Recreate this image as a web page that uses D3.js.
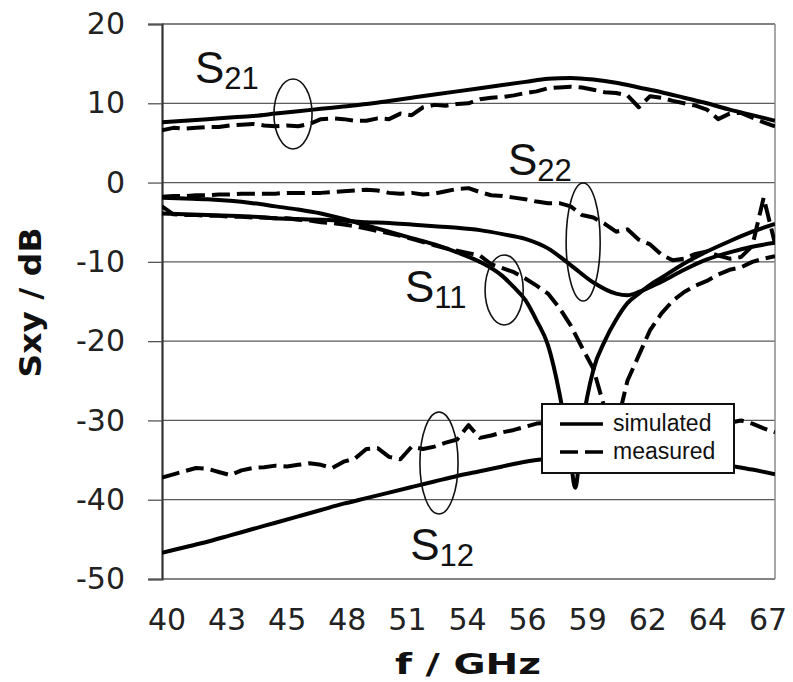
<!DOCTYPE html>
<html>
<head>
<meta charset="utf-8">
<script src="https://cdn.jsdelivr.net/npm/d3@7/dist/d3.min.js"></script>
<style>
  html, body { margin: 0; padding: 0; background: #fff; }
  svg { display: block; }
</style>
</head>
<body>
<div id="chart"></div>
<script>
// ---------------- DATA ----------------
const xTickLabels = ["40","43","45","48","51","54","56","59","62","64","67"];
const yTicks = [20, 10, 0, -10, -20, -30, -40, -50];

// simulated series (frequency in GHz, value in dB)
const fSim = [40,41,42,43,44,45,46,47,48,49,50,51,52,53,54,55,56,57,58,59,60,61,62,63,64,65,66,67];
const s21Sim = [7.6,7.8,8.0,8.2,8.4,8.7,9.0,9.3,9.6,9.9,10.3,10.7,11.1,11.5,11.9,12.3,12.7,13.1,13.2,13.0,12.6,12.0,11.4,10.7,10.0,9.2,8.5,7.8];
const s12Sim = [-46.7,-46.0,-45.3,-44.5,-43.7,-42.9,-42.1,-41.3,-40.5,-39.8,-39.1,-38.4,-37.7,-37.0,-36.4,-35.8,-35.2,-34.8,-34.5,-34.3,-34.2,-34.3,-34.5,-34.8,-35.2,-35.7,-36.2,-36.8];

const fS11Sim = [40,41,42,43,44,45,46,47,48,49,50,51,52,53,54,55,55.5,56,56.5,57,57.5,58,58.2,58.5,59,59.5,60,60.5,61,61.5,62,63,64,65,66,67];
const s11Sim = [-1.9,-2.0,-2.1,-2.3,-2.6,-3.0,-3.4,-3.9,-4.6,-5.4,-6.2,-7.0,-7.8,-8.8,-10.0,-11.8,-13.2,-14.8,-17.4,-20.5,-26.5,-35.0,-38.5,-31.0,-23.6,-20.0,-17.3,-15.2,-14.0,-12.9,-12.0,-10.2,-8.7,-7.4,-6.2,-5.2];

const fS22Sim = [40,41,42,43,44,45,46,47,48,49,50,51,52,53,54,55,56,57,58,59,60,60.5,61,62,63,64,65,66,67];
const s22Sim = [-3.9,-4.0,-4.1,-4.2,-4.3,-4.5,-4.6,-4.7,-4.8,-5.0,-5.1,-5.3,-5.5,-5.7,-6.0,-6.5,-7.1,-8.3,-10.4,-12.6,-14.0,-14.2,-13.8,-12.5,-11.0,-9.7,-8.8,-8.1,-7.6];

// measured series (0.5 GHz steps)
const fMeas = [40,40.5,41,41.5,42,42.5,43,43.5,44,44.5,45,45.5,46,46.5,47,47.5,48,48.5,49,49.5,50,50.5,51,51.5,52,52.5,53,53.5,54,54.5,55,55.5,56,56.5,57,57.5,58,58.5,59,59.5,60,60.5,61,61.5,62,62.5,63,63.5,64,64.5,65,65.5,66,66.5,67];
const s21Meas = [6.6,6.9,6.8,6.9,7.0,7.0,7.2,7.3,7.4,7.2,7.1,7.2,7.1,7.4,8.0,8.1,8.0,7.8,7.8,8.1,8.0,8.7,8.5,9.5,9.8,9.7,9.9,10.0,10.5,10.7,10.8,11.0,11.3,11.5,11.9,12.0,12.1,12.0,11.7,11.4,11.3,11.0,9.5,10.9,10.7,10.3,10.0,9.7,9.2,8.0,8.7,8.8,8.2,7.6,7.1];
const s22Meas = [-1.8,-1.7,-1.7,-1.6,-1.6,-1.5,-1.5,-1.4,-1.4,-1.4,-1.4,-1.3,-1.3,-1.3,-1.3,-1.2,-1.1,-1.0,-0.9,-1.0,-1.3,-1.4,-1.3,-1.5,-1.4,-1.1,-0.8,-0.7,-1.2,-1.6,-1.7,-1.9,-2.1,-2.4,-2.6,-2.6,-3.0,-4.1,-4.4,-5.2,-6.2,-5.9,-7.2,-7.8,-9.1,-9.8,-9.6,-9.0,-8.7,-9.2,-9.6,-9.4,-8.0,-1.9,-7.7];
const s11Meas = [-3.0,-4.0,-4.1,-4.1,-4.2,-4.2,-4.3,-4.3,-4.4,-4.4,-4.5,-4.5,-4.7,-4.8,-5.0,-5.1,-5.3,-5.5,-5.8,-6.1,-6.4,-6.7,-7.1,-7.5,-7.9,-8.3,-8.6,-8.9,-9.2,-10.3,-10.8,-11.3,-12.1,-13.0,-14.0,-15.8,-18.0,-20.8,-23.5,-28.5,-31.0,-25.0,-21.8,-18.6,-16.5,-14.9,-13.8,-13.0,-12.4,-11.6,-11.0,-10.7,-10.0,-9.6,-9.3];
const s12Meas = [-37.2,-36.8,-36.4,-36.0,-36.1,-36.5,-36.9,-36.3,-36.0,-35.9,-35.7,-35.8,-35.6,-35.4,-35.6,-36.0,-35.2,-34.8,-33.6,-33.5,-34.6,-34.9,-33.3,-33.6,-33.3,-32.8,-32.4,-30.6,-32.2,-31.9,-31.5,-31.2,-30.8,-30.4,-30.3,-30.1,-30.0,-29.8,-29.9,-29.7,-29.8,-29.9,-30.0,-29.8,-30.1,-30.0,-30.2,-30.1,-30.3,-30.2,-30.3,-30.0,-30.4,-31.0,-31.5];

// annotation labels: name, subscript, anchor (GHz, dB), ellipse centre & radii (GHz, dB)
const annoNames = ["S","S","S","S"];
const annoSubs = ["21","22","11","12"];
const annoTextF = [41.45, 55.24, 50.70, 50.93];
const annoTextV = [12.56, 0.96, -15.06, -47.6];
const ellF = [45.77, 58.55, 55.07, 52.20];
const ellV = [8.65, -7.49, -13.55, -35.37];
const ellRF = [0.84, 0.75, 0.84, 0.84];
const ellRV = [4.41, 7.44, 4.41, 6.43];

const legendLabels = ["simulated", "measured"];

// ---------------- CHART ----------------
const W = 793, H = 682;
const margin = {left: 162, top: 24, right: 18, bottom: 103};
const x = d3.scaleLinear().domain([40, 67]).range([margin.left, W - margin.right]);
const y = d3.scaleLinear().domain([-50, 20]).range([H - margin.bottom, margin.top]);
const xLab = d3.scalePoint().domain(xTickLabels).range([167, 768]);

const svg = d3.select("#chart").append("svg").attr("width", W).attr("height", H);

svg.append("defs").append("clipPath").attr("id", "plotclip")
  .append("rect").attr("x", x(40)).attr("y", y(20) - 2)
  .attr("width", x(67) - x(40)).attr("height", y(-50) - y(20) + 4);

// gridlines
svg.append("g").selectAll("line").data(yTicks).join("line")
  .attr("x1", x(40)).attr("x2", x(67))
  .attr("y1", d => y(d)).attr("y2", d => y(d))
  .attr("stroke", "#5a5a5a").attr("stroke-width", 1.3);
// right border
svg.append("line").attr("x1", x(67)).attr("x2", x(67)).attr("y1", y(20)).attr("y2", y(-50))
  .attr("stroke", "#8a8a8a").attr("stroke-width", 1.5);

// y axis
const yAxis = svg.append("g").attr("transform", `translate(${x(40)},0)`)
  .call(d3.axisLeft(y).tickValues(yTicks).tickSize(14).tickPadding(23).tickFormat(d => d));
yAxis.select(".domain").attr("stroke", "#333").attr("stroke-width", 2.2);
yAxis.selectAll(".tick line").attr("stroke", "#555").attr("stroke-width", 1.3);
yAxis.selectAll(".tick text").attr("font-family", "DejaVu Sans, Verdana, sans-serif")
  .attr("font-size", 30).attr("fill", "#222");

// x tick labels
svg.append("g").selectAll("text").data(xTickLabels).join("text")
  .attr("x", d => xLab(d)).attr("y", 630)
  .attr("text-anchor", "middle")
  .attr("font-family", "DejaVu Sans, Verdana, sans-serif").attr("font-size", 30).attr("fill", "#222")
  .text(d => d);

// axis titles
svg.append("text").attr("x", 468).attr("y", 674).attr("text-anchor", "middle")
  .attr("font-family", "DejaVu Sans, Verdana, sans-serif").attr("font-weight", "bold")
  .attr("font-size", 28).attr("fill", "#111")
  .attr("textLength", 146).attr("lengthAdjust", "spacingAndGlyphs")
  .text("f / GHz");
svg.append("text").attr("transform", "translate(41,302.5) rotate(-90)").attr("text-anchor", "middle")
  .attr("font-family", "DejaVu Sans, Verdana, sans-serif").attr("font-weight", "bold")
  .attr("font-size", 30).attr("fill", "#111")
  .attr("textLength", 150).attr("lengthAdjust", "spacingAndGlyphs")
  .text("Sxy / dB");

// data lines
const series = [
  {f: fSim, v: s21Sim, dashed: false},
  {f: fSim, v: s12Sim, dashed: false},
  {f: fS11Sim, v: s11Sim, dashed: false},
  {f: fS22Sim, v: s22Sim, dashed: false},
  {f: fMeas, v: s21Meas, dashed: true},
  {f: fMeas, v: s22Meas, dashed: true},
  {f: fMeas, v: s11Meas, dashed: true},
  {f: fMeas, v: s12Meas, dashed: true}
];
const lineSim = d3.line().x(d => x(d[0])).y(d => y(d[1])).curve(d3.curveMonotoneX);
const lineMeas = d3.line().x(d => x(d[0])).y(d => y(d[1]));
const gLines = svg.append("g").attr("clip-path", "url(#plotclip)");
series.forEach(s => {
  const pts = s.f.map((f, i) => [f, s.v[i]]);
  gLines.append("path").datum(pts)
    .attr("d", s.dashed ? lineMeas : lineSim)
    .attr("fill", "none").attr("stroke", "#000")
    .attr("stroke-width", 4)
    .attr("stroke-linejoin", "round")
    .attr("stroke-dasharray", s.dashed ? "18,7" : null);
});

// ellipses
svg.append("g").selectAll("ellipse").data(d3.range(ellF.length)).join("ellipse")
  .attr("cx", i => x(ellF[i])).attr("cy", i => y(ellV[i]))
  .attr("rx", i => x(40 + ellRF[i]) - x(40))
  .attr("ry", i => y(0) - y(ellRV[i]))
  .attr("fill", "none").attr("stroke", "#111").attr("stroke-width", 1.6);

// annotation labels
const annos = svg.append("g").selectAll("text").data(d3.range(annoNames.length)).join("text")
  .attr("x", i => x(annoTextF[i])).attr("y", i => y(annoTextV[i]))
  .attr("font-family", "Liberation Sans, Arial, sans-serif").attr("font-size", 44).attr("fill", "#111");
annos.append("tspan").text(i => annoNames[i]);
annos.append("tspan").attr("font-size", 31).attr("dy", 6).text(i => annoSubs[i]);

// legend
const lg = svg.append("g");
lg.append("rect").attr("x", 542).attr("y", 404).attr("width", 192).attr("height", 69)
  .attr("fill", "#fff").attr("stroke", "#111").attr("stroke-width", 2);
lg.append("line").attr("x1", 560).attr("x2", 603).attr("y1", 424).attr("y2", 424)
  .attr("stroke", "#000").attr("stroke-width", 3.5);
lg.append("line").attr("x1", 560).attr("x2", 603).attr("y1", 452).attr("y2", 452)
  .attr("stroke", "#000").attr("stroke-width", 3.5).attr("stroke-dasharray", "18,7");
lg.selectAll("text").data(legendLabels).join("text")
  .attr("x", 613).attr("y", (d, i) => 431 + i * 28)
  .attr("font-family", "Liberation Sans, Arial, sans-serif").attr("font-size", 23).attr("fill", "#111")
  .text(d => d);
</script>
</body>
</html>
